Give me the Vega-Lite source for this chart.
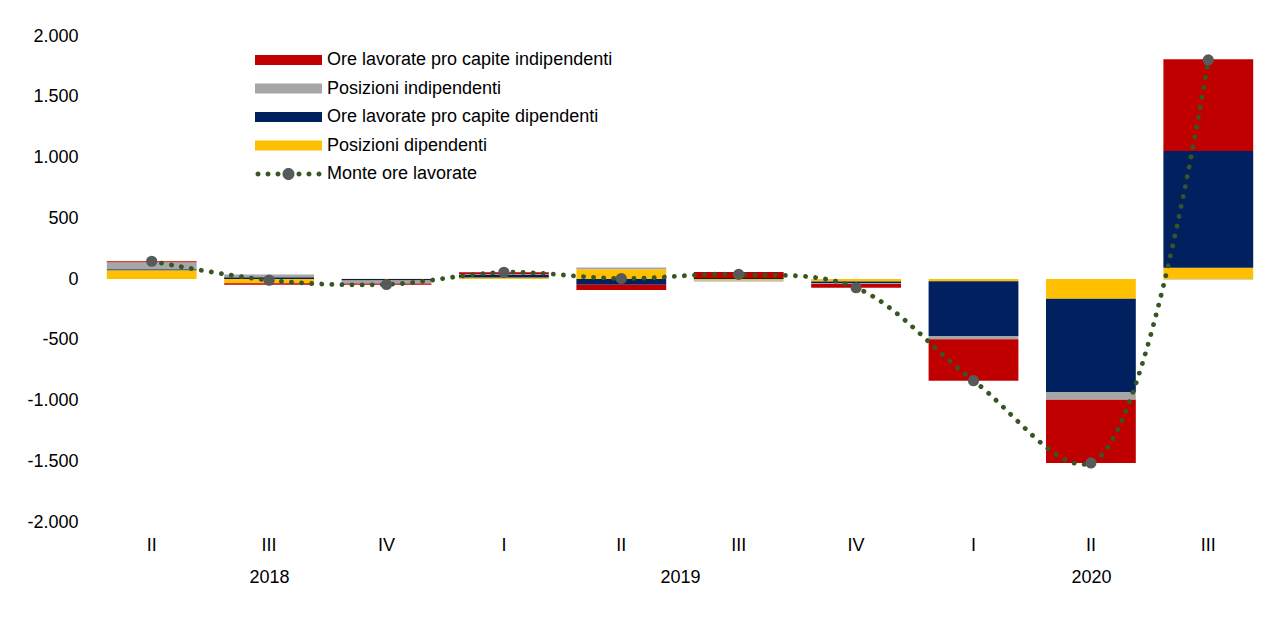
{
  "$schema": "https://vega.github.io/schema/vega-lite/v6.json",
  "width": 1174,
  "height": 486,
  "autosize": {"type": "pad"},
  "padding": {"left": 26, "top": 27, "right": 0, "bottom": 0},
  "background": "white",
  "config": {
    "font": "Liberation Sans",
    "view": {"stroke": null},
    "axis": {"labelFont": "Liberation Sans", "labelFontSize": 18, "labelColor": "#000000", "domain": false, "ticks": false, "tickSize": 0, "grid": false, "title": null},
    "legend": {"labelFont": "Liberation Sans", "labelFontSize": 18, "labelColor": "#000000", "padding": 0, "labelLimit": 500}
  },
  "datasets": {
    "componenti": [
      {"periodo": "2018-II", "componente": "Posizioni dipendenti", "valore": 72, "ordine": 1},
      {"periodo": "2018-II", "componente": "Ore lavorate pro capite dipendenti", "valore": 8, "ordine": 2},
      {"periodo": "2018-II", "componente": "Posizioni indipendenti", "valore": 57, "ordine": 3},
      {"periodo": "2018-II", "componente": "Ore lavorate pro capite indipendenti", "valore": 9, "ordine": 4},
      {"periodo": "2018-III", "componente": "Posizioni dipendenti", "valore": -35, "ordine": 1},
      {"periodo": "2018-III", "componente": "Ore lavorate pro capite dipendenti", "valore": 15, "ordine": 2},
      {"periodo": "2018-III", "componente": "Posizioni indipendenti", "valore": 22, "ordine": 3},
      {"periodo": "2018-III", "componente": "Ore lavorate pro capite indipendenti", "valore": -12, "ordine": 4},
      {"periodo": "2018-IV", "componente": "Posizioni dipendenti", "valore": 2, "ordine": 1},
      {"periodo": "2018-IV", "componente": "Ore lavorate pro capite dipendenti", "valore": -12, "ordine": 2},
      {"periodo": "2018-IV", "componente": "Posizioni indipendenti", "valore": -25, "ordine": 3},
      {"periodo": "2018-IV", "componente": "Ore lavorate pro capite indipendenti", "valore": -10, "ordine": 4},
      {"periodo": "2019-I", "componente": "Posizioni dipendenti", "valore": 12, "ordine": 1},
      {"periodo": "2019-I", "componente": "Ore lavorate pro capite dipendenti", "valore": 20, "ordine": 2},
      {"periodo": "2019-I", "componente": "Posizioni indipendenti", "valore": 8, "ordine": 3},
      {"periodo": "2019-I", "componente": "Ore lavorate pro capite indipendenti", "valore": 15, "ordine": 4},
      {"periodo": "2019-II", "componente": "Posizioni dipendenti", "valore": 80, "ordine": 1},
      {"periodo": "2019-II", "componente": "Ore lavorate pro capite dipendenti", "valore": -48, "ordine": 2},
      {"periodo": "2019-II", "componente": "Posizioni indipendenti", "valore": 14, "ordine": 3},
      {"periodo": "2019-II", "componente": "Ore lavorate pro capite indipendenti", "valore": -42, "ordine": 4},
      {"periodo": "2019-III", "componente": "Posizioni dipendenti", "valore": -12, "ordine": 1},
      {"periodo": "2019-III", "componente": "Ore lavorate pro capite dipendenti", "valore": 8, "ordine": 2},
      {"periodo": "2019-III", "componente": "Posizioni indipendenti", "valore": -8, "ordine": 3},
      {"periodo": "2019-III", "componente": "Ore lavorate pro capite indipendenti", "valore": 50, "ordine": 4},
      {"periodo": "2019-IV", "componente": "Posizioni dipendenti", "valore": -20, "ordine": 1},
      {"periodo": "2019-IV", "componente": "Ore lavorate pro capite dipendenti", "valore": -12, "ordine": 2},
      {"periodo": "2019-IV", "componente": "Posizioni indipendenti", "valore": -10, "ordine": 3},
      {"periodo": "2019-IV", "componente": "Ore lavorate pro capite indipendenti", "valore": -30, "ordine": 4},
      {"periodo": "2020-I", "componente": "Posizioni dipendenti", "valore": -19, "ordine": 1},
      {"periodo": "2020-I", "componente": "Ore lavorate pro capite dipendenti", "valore": -450, "ordine": 2},
      {"periodo": "2020-I", "componente": "Posizioni indipendenti", "valore": -27, "ordine": 3},
      {"periodo": "2020-I", "componente": "Ore lavorate pro capite indipendenti", "valore": -341, "ordine": 4},
      {"periodo": "2020-II", "componente": "Posizioni dipendenti", "valore": -162, "ordine": 1},
      {"periodo": "2020-II", "componente": "Ore lavorate pro capite dipendenti", "valore": -768, "ordine": 2},
      {"periodo": "2020-II", "componente": "Posizioni indipendenti", "valore": -63, "ordine": 3},
      {"periodo": "2020-II", "componente": "Ore lavorate pro capite indipendenti", "valore": -521, "ordine": 4},
      {"periodo": "2020-III", "componente": "Posizioni dipendenti", "valore": 93, "ordine": 1},
      {"periodo": "2020-III", "componente": "Ore lavorate pro capite dipendenti", "valore": 960, "ordine": 2},
      {"periodo": "2020-III", "componente": "Posizioni indipendenti", "valore": -5, "ordine": 3},
      {"periodo": "2020-III", "componente": "Ore lavorate pro capite indipendenti", "valore": 755, "ordine": 4}
    ],
    "totale": [
      {"periodo": "2018-II", "serie": "Monte ore lavorate", "valore": 146},
      {"periodo": "2018-III", "serie": "Monte ore lavorate", "valore": -10},
      {"periodo": "2018-IV", "serie": "Monte ore lavorate", "valore": -45},
      {"periodo": "2019-I", "serie": "Monte ore lavorate", "valore": 55},
      {"periodo": "2019-II", "serie": "Monte ore lavorate", "valore": 4},
      {"periodo": "2019-III", "serie": "Monte ore lavorate", "valore": 38},
      {"periodo": "2019-IV", "serie": "Monte ore lavorate", "valore": -72},
      {"periodo": "2020-I", "serie": "Monte ore lavorate", "valore": -837},
      {"periodo": "2020-II", "serie": "Monte ore lavorate", "valore": -1514},
      {"periodo": "2020-III", "serie": "Monte ore lavorate", "valore": 1803}
    ],
    "anni": [
      {"pos": 1.5, "anno": "2018"},
      {"pos": 5, "anno": "2019"},
      {"pos": 8.5, "anno": "2020"}
    ]
  },
  "layer": [
    {
      "layer": [
        {
          "data": {"name": "componenti"},
          "mark": {"type": "bar"},
          "encoding": {
            "x": {
              "field": "periodo", "type": "nominal",
              "scale": {"domain": ["2018-II", "2018-III", "2018-IV", "2019-I", "2019-II", "2019-III", "2019-IV", "2020-I", "2020-II", "2020-III"], "paddingInner": 0.235, "paddingOuter": 0.1175},
              "axis": {"orient": "bottom", "labelExpr": "split(datum.value, '-')[1]", "labelAngle": 0, "labelPadding": 14}
            },
            "y": {
              "field": "valore", "type": "quantitative", "stack": "zero",
              "scale": {"domain": [-2000, 2000], "nice": false},
              "axis": {"values": [-2000, -1500, -1000, -500, 0, 500, 1000, 1500, 2000], "labelExpr": "(datum.value < 0 ? '-' : '') + replace(format(abs(datum.value), ','), ',', '.')", "labelPadding": 15}
            },
            "color": {
              "field": "componente", "type": "nominal",
              "scale": {"domain": ["Ore lavorate pro capite indipendenti", "Posizioni indipendenti", "Ore lavorate pro capite dipendenti", "Posizioni dipendenti"], "range": ["#C00000", "#A6A6A6", "#002060", "#FFC000"]},
              "legend": {"orient": "none", "legendX": 158, "legendY": 15, "title": null, "symbolType": "M-1,-1L12.4,-1L12.4,1L-1,1Z", "symbolSize": 100, "symbolStrokeWidth": 0, "labelOffset": 58, "rowPadding": 10.5}
            },
            "order": {"field": "ordine", "type": "quantitative"}
          }
        },
        {
          "data": {"name": "totale"},
          "mark": {"type": "line", "interpolate": "catmull-rom", "strokeWidth": 4.8, "strokeDash": [0.1, 10], "strokeCap": "round"},
          "encoding": {
            "x": {"field": "periodo", "type": "nominal"},
            "y": {"field": "valore", "type": "quantitative"},
            "stroke": {
              "field": "serie", "type": "nominal",
              "scale": {"range": ["#375623"]},
              "legend": {
                "orient": "none", "legendX": 158, "legendY": 129, "title": null,
                "symbolType": "M-0.9,0a0.5,0.5,0,1,0,1,0a0.5,0.5,0,1,0,-1,0ZM1.1,0a0.5,0.5,0,1,0,1,0a0.5,0.5,0,1,0,-1,0ZM3.1,0a0.5,0.5,0,1,0,1,0a0.5,0.5,0,1,0,-1,0ZM7.3,0a0.5,0.5,0,1,0,1,0a0.5,0.5,0,1,0,-1,0ZM9.3,0a0.5,0.5,0,1,0,1,0a0.5,0.5,0,1,0,-1,0ZM11.3,0a0.5,0.5,0,1,0,1,0a0.5,0.5,0,1,0,-1,0Z",
                "symbolSize": 100,
                "symbolFillColor": "#375623",
                "symbolStrokeColor": "transparent",
                "symbolStrokeWidth": 0,
                "labelOffset": 58
              }
            }
          }
        },
        {
          "data": {"name": "totale"},
          "mark": {"type": "circle", "size": 125, "opacity": 1},
          "encoding": {
            "x": {"field": "periodo", "type": "nominal"},
            "y": {"field": "valore", "type": "quantitative"},
            "fill": {
              "field": "serie", "type": "nominal",
              "scale": {"range": ["#595959"]},
              "legend": {
                "orient": "none", "legendX": 158, "legendY": 129, "title": null,
                "symbolType": "M-1.2,0a1.2,1.2,0,1,0,2.4,0a1.2,1.2,0,1,0,-2.4,0Z",
                "symbolSize": 100,
                "symbolStrokeWidth": 0,
                "symbolOffset": 28.5,
                "labelOffset": 29.5,
                "labelOpacity": 0
              }
            }
          }
        }
      ]
    },
    {
      "data": {"name": "anni"},
      "mark": {"type": "point", "opacity": 0},
      "encoding": {
        "x": {
          "field": "pos", "type": "quantitative",
          "scale": {"domain": [0, 10], "nice": false, "zero": false},
          "axis": {"orient": "bottom", "values": [1.5, 5, 8.5], "labelExpr": "datum.value == 1.5 ? '2018' : (datum.value == 5 ? '2019' : '2020')", "labelPadding": 46, "labelFlush": false, "labelOverlap": false}
        }
      }
    }
  ],
  "resolve": {"scale": {"x": "independent"}}
}
